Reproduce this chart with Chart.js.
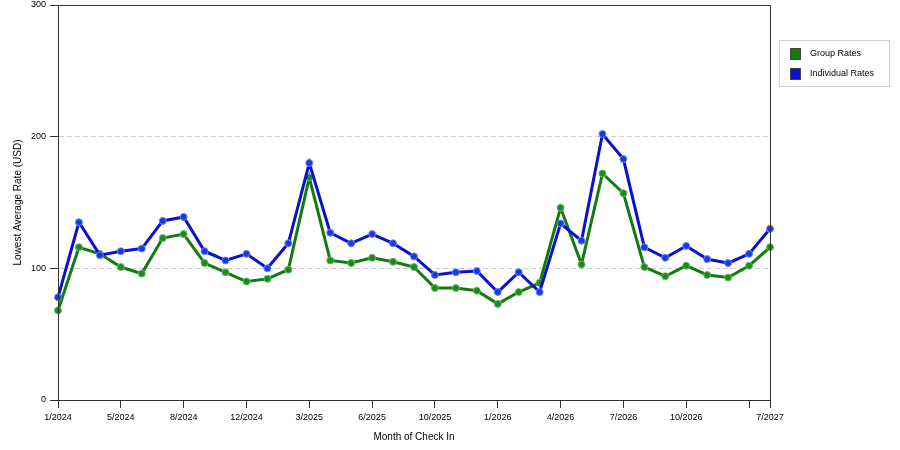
<!DOCTYPE html>
<html>
<head>
<meta charset="utf-8">
<script src="https://cdn.jsdelivr.net/npm/chart.js@4.4.1/dist/chart.umd.min.js"></script>
<style>
  html, body { margin: 0; padding: 0; background: #fff; }
  #wrap { width: 900px; height: 450px; }
</style>
</head>
<body>
<div id="wrap"><canvas id="rates" width="900" height="450"></canvas></div>
<script>
// months of check in (one per point)
const months = [
  '1/2024', '3/2024', '4/2024', '5/2024', '6/2024', '7/2024', '8/2024', '10/2024', '11/2024',
  '12/2024', '1/2025', '2/2025', '3/2025', '4/2025', '5/2025', '6/2025', '7/2025', '9/2025',
  '10/2025', '11/2025', '12/2025', '1/2026', '2/2026', '3/2026', '4/2026', '5/2026', '6/2026',
  '7/2026', '8/2026', '9/2026', '10/2026', '11/2026', '12/2026', '1/2027', '7/2027'
];
// labels actually printed under the axis
const shownTicks = ['1/2024', '5/2024', '8/2024', '12/2024', '3/2025', '6/2025', '10/2025',
  '1/2026', '4/2026', '7/2026', '10/2026', '7/2027'];

const groupRates = [68, 116, 111, 101, 96, 123, 126, 104, 97, 90, 92, 99, 169, 106, 104, 108, 105, 101,
  85, 85, 83, 73, 82, 89, 146, 103, 172, 157, 101, 94, 102, 95, 93, 102, 116];
const individualRates = [78, 135, 110, 113, 115, 136, 139, 113, 106, 111, 100, 119, 180, 127, 119, 126, 119, 109,
  95, 97, 98, 82, 97, 82, 134, 121, 202, 183, 116, 108, 117, 107, 104, 111, 130];

const yTicks = [0, 100, 200, 300];

const GREEN = '#107c10';
const BLUE = '#0a10d2';

// frame around the plot area
const frame = {
  id: 'frame',
  afterDatasetsDraw(chart) {
    const { ctx, chartArea: a } = chart;
    ctx.save();
    ctx.strokeStyle = '#333';
    ctx.lineWidth = 1;
    ctx.strokeRect(Math.round(a.left) + 0.5, Math.round(a.top) + 0.5,
      Math.round(a.right - a.left), Math.round(a.bottom - a.top));
    ctx.restore();
  }
};

// boxed legend on the right
const boxLegend = {
  id: 'boxLegend',
  afterDraw(chart) {
    const { ctx } = chart;
    const x = 779, y = 40;
    ctx.save();
    ctx.fillStyle = '#fff';
    ctx.fillRect(x, y, 110, 46);
    ctx.strokeStyle = '#d0d0d0';
    ctx.lineWidth = 1;
    ctx.strokeRect(x + 0.5, y + 0.5, 110, 46);
    ctx.font = '9px "Liberation Sans", Arial, sans-serif';
    ctx.textBaseline = 'middle';
    chart.data.datasets.forEach((ds, i) => {
      const cy = y + 14 + i * 20;
      ctx.fillStyle = ds.borderColor;
      ctx.fillRect(x + 11, cy - 6, 11, 12);
      ctx.strokeStyle = '#444';
      ctx.strokeRect(x + 11.5, cy - 5.5, 10, 11);
      ctx.fillStyle = '#000';
      ctx.fillText(ds.label, x + 31, cy);
    });
    ctx.restore();
  }
};

new Chart(document.getElementById('rates'), {
  type: 'line',
  data: {
    labels: months,
    datasets: [
      {
        label: 'Group Rates',
        data: groupRates,
        borderColor: GREEN,
        backgroundColor: GREEN,
        pointBackgroundColor: '#1d8a1d',
        pointBorderColor: '#6fb36f',
        borderWidth: 3,
        pointRadius: 3.5,
        pointBorderWidth: 1,
        tension: 0,
        order: 1,
      },
      {
        label: 'Individual Rates',
        data: individualRates,
        borderColor: BLUE,
        backgroundColor: BLUE,
        pointBackgroundColor: '#1a3ae0',
        pointBorderColor: '#6f86ee',
        borderWidth: 3,
        pointRadius: 3.5,
        pointBorderWidth: 1,
        tension: 0,
        order: 0,
      },
    ],
  },
  options: {
    responsive: false,
    animation: false,
    events: [],
    layout: { padding: { top: 5, right: 130, left: 0, bottom: 0 } },
    plugins: {
      legend: { display: false },
      tooltip: { enabled: false },
    },
    scales: {
      x: {
        afterFit: (scale) => { scale.height = 50; },
        grid: {
          drawOnChartArea: false,
          tickLength: 8,
          tickColor: (c) => (c.index % 3 === 0 || c.index === months.length - 1) ? '#333' : 'rgba(0,0,0,0)',
        },
        border: { color: '#333' },
        ticks: {
          autoSkip: false,
          maxRotation: 0,
          padding: 4,
          color: '#000',
          font: { family: '"Liberation Sans", Arial, sans-serif', size: 9 },
          callback: (v, i) => shownTicks.includes(months[i]) ? months[i] : '',
        },
        title: {
          display: true,
          text: 'Month of Check In',
          color: '#000',
          font: { family: '"Liberation Sans", Arial, sans-serif', size: 10 },
          padding: { top: 0, bottom: 7 },
        },
      },
      y: {
        min: yTicks[0],
        max: yTicks[yTicks.length - 1],
        afterFit: (scale) => {
          scale.width = 58;
          scale.paddingTop = 0;
          scale.paddingBottom = 0;
        },
        afterBuildTicks: (scale) => { scale.ticks = yTicks.map((v) => ({ value: v })); },
        grid: {
          color: (c) => (c.tick && c.tick.value > 0 && c.tick.value < 300) ? '#cfcfcf' : 'rgba(0,0,0,0)',
          tickLength: 8,
          tickColor: '#333',
          tickBorderDash: [1, 0],
        },
        border: { color: '#333', dash: [5, 3] },
        ticks: {
          padding: 4,
          color: '#000',
          font: { family: '"Liberation Sans", Arial, sans-serif', size: 9 },
        },
        title: {
          display: true,
          text: 'Lowest Average Rate (USD)',
          color: '#000',
          font: { family: '"Liberation Sans", Arial, sans-serif', size: 10 },
          padding: { top: 12, bottom: 0 },
        },
      },
    },
  },
  plugins: [frame, boxLegend],
});
</script>
</body>
</html>
